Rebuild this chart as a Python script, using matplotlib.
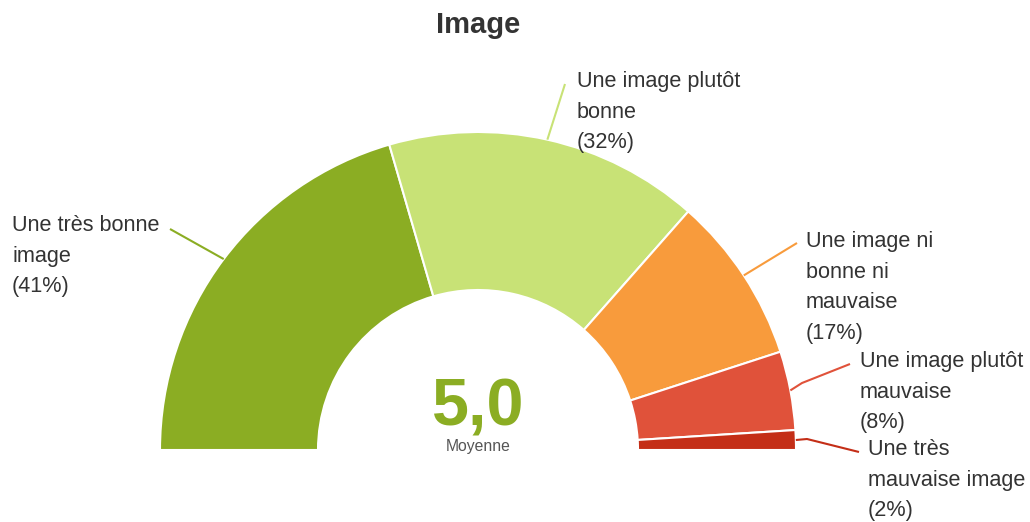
import numpy as np
import matplotlib.pyplot as plt
from matplotlib.patches import Wedge

# Data
labels = ["Une très bonne\nimage", "Une image plutôt\nbonne", "Une image ni\nbonne ni\nmauvaise",
          "Une image plutôt\nmauvaise", "Une très\nmauvaise image"]
values = [41, 32, 17, 8, 2]
colors = ["#8bad23", "#c8e276", "#f89b3c", "#e0523a", "#c42e17"]
average = "5,0"
title = "Image"

plt.rcParams['font.family'] = ['Liberation Sans', 'DejaVu Sans']

W, H = 1030, 522
fig = plt.figure(figsize=(W / 100, H / 100), dpi=100)
ax = fig.add_axes([0, 0, 1, 1])
ax.set_xlim(0, W)
ax.set_ylim(0, H)
ax.axis('off')

def Y(y):  # image pixel row -> data y
    return H - y

cx, cy = 478, Y(450)
r_out, r_in = 318, 160

# leader line end points and first-line baseline of each label (image pixels)
leaders = [[(170, 229)], [(565, 84)], [(797, 243)], [(802, 383), (850, 364)], [(807, 439), (859, 452)]]
text_pos = [(12, 231), (577, 87), (806, 247), (860, 367), (868, 455)]
line_h = 30.7

total = sum(values)
start = 180.0
for i, v in enumerate(values):
    span = v / total * 180.0
    t2 = start
    t1 = start - span
    ax.add_patch(Wedge((cx, cy), r_out, t1, t2, width=r_out - r_in,
                       facecolor=colors[i], edgecolor='white', linewidth=1.5))
    mid = np.radians((t1 + t2) / 2)
    px = [cx + r_out * np.cos(mid)] + [p[0] for p in leaders[i]]
    py = [cy + r_out * np.sin(mid)] + [Y(p[1]) for p in leaders[i]]
    ax.plot(px, py, color=colors[i], lw=1.5, solid_capstyle='butt')
    lines = labels[i].split("\n") + ["(%d%%)" % v]
    tx, ty = text_pos[i]
    for k, s in enumerate(lines):
        ax.text(tx, Y(ty + k * line_h), s, fontsize=15.6, color='#333333',
                ha='left', va='baseline')
    start = t1

ax.text(cx, Y(425), average, fontsize=48, fontweight='bold', color='#8bad23',
        ha='center', va='baseline')
ax.text(cx, Y(451), "Moyenne", fontsize=11.3, color='#555555', ha='center', va='baseline')
ax.text(cx, Y(33), title, fontsize=21, fontweight='bold', color='#333333',
        ha='center', va='baseline')

fig.savefig("out.png", dpi=100)
